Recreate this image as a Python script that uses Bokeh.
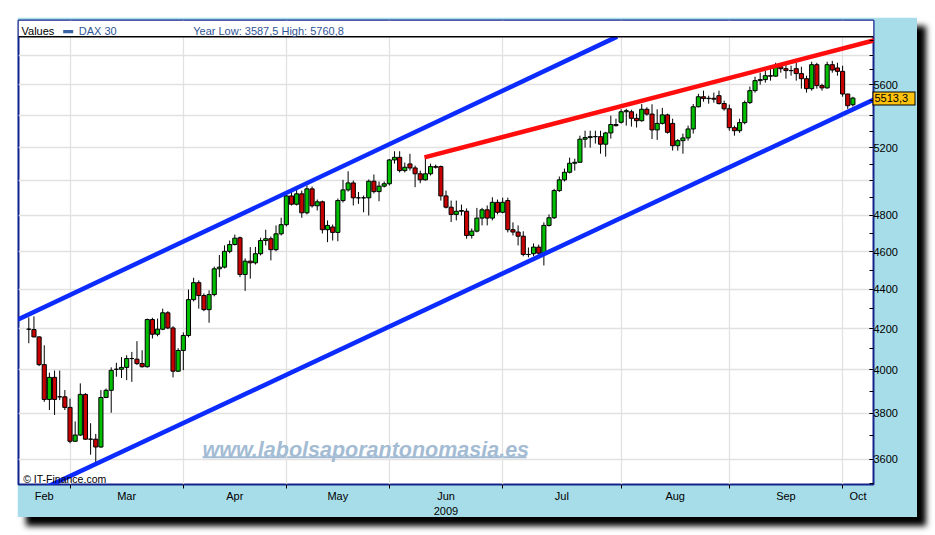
import math
from bokeh.plotting import figure
from bokeh.models import (Range1d, FixedTicker, NumeralTickFormatter, Label, Span,
                          BoxAnnotation, ColumnDataSource, LogAxis)
from bokeh.embed import file_html
from bokeh.resources import INLINE

# ---------------- data (DAX 30, daily, 18 Feb 2009 - 5 Oct 2009) ----------------
opens = [4197, 4195, 4159, 4025, 3863, 3965, 3875, 3875, 3827, 3677,
         3704, 3886, 3686, 3686, 3652, 3872, 3905, 4003, 4003, 4012,
         4054, 4051, 4030, 4015, 4245, 4172, 4197, 4279, 4203, 3994,
         4093, 4166, 4346, 4434, 4367, 4295, 4372, 4507, 4516, 4601,
         4638, 4675, 4477, 4548, 4539, 4588, 4660, 4670, 4610, 4697,
         4748, 4912, 4864, 4924, 4815, 4953, 4855, 4878, 4720, 4735,
         4705, 4885, 4947, 4988, 4901, 4901, 4901, 4998, 4937, 4969,
         4983, 5125, 5141, 5061, 5101, 5077, 5042, 5006, 5042, 5085,
         5085, 4912, 4847, 4806, 4824, 4824, 4688, 4712, 4785, 4832,
         4785, 4875, 4818, 4885, 4720, 4707, 4684, 4584, 4588, 4624,
         4591, 4744, 4787, 4943, 5006, 5051, 5105, 5111, 5252, 5262,
         5268, 5268, 5221, 5291, 5344, 5358, 5425, 5425, 5383, 5368,
         5441, 5410, 5310, 5351, 5405, 5351, 5212, 5243, 5260, 5316,
         5457, 5522, 5510, 5512, 5529, 5478, 5444, 5324, 5305, 5356,
         5484, 5562, 5628, 5635, 5661, 5658, 5721, 5708, 5695, 5708,
         5675, 5641, 5575, 5735, 5595, 5580, 5735, 5713, 5690, 5540,
         5470]
highs = [4256, 4261, 4162, 4118, 3987, 3997, 3997, 3906, 3867, 3764,
         3937, 3892, 3756, 3709, 3906, 3913, 4012, 4034, 4061, 4070,
         4086, 4138, 4094, 4250, 4254, 4250, 4300, 4287, 4212, 4104,
         4181, 4398, 4460, 4446, 4378, 4394, 4519, 4581, 4633, 4660,
         4693, 4682, 4563, 4624, 4625, 4675, 4720, 4682, 4744, 4787,
         4924, 4947, 4959, 4943, 4973, 4967, 4891, 4885, 4772, 4749,
         4897, 5006, 5057, 5002, 4935, 4914, 5008, 5038, 4996, 4996,
         5131, 5178, 5178, 5109, 5162, 5091, 5061, 5141, 5103, 5097,
         5091, 4943, 4885, 4885, 4862, 4840, 4727, 4843, 4843, 4857,
         4904, 4891, 4902, 4902, 4761, 4744, 4711, 4622, 4644, 4638,
         4761, 4806, 4953, 5026, 5073, 5139, 5133, 5274, 5305, 5305,
         5305, 5305, 5298, 5400, 5381, 5441, 5444, 5438, 5413, 5475,
         5454, 5473, 5441, 5450, 5413, 5381, 5253, 5287, 5337, 5475,
         5541, 5562, 5529, 5549, 5562, 5497, 5471, 5337, 5381, 5497,
         5589, 5654, 5681, 5695, 5708, 5748, 5741, 5735, 5728, 5748,
         5721, 5661, 5755, 5748, 5608, 5755, 5760.8, 5748, 5728, 5541,
         5522]
lows = [4128, 4157, 4018, 3852, 3815, 3793, 3860, 3815, 3668, 3674,
        3700, 3683, 3619, 3587.5, 3649, 3869, 3803, 3968, 3962, 3952,
        3944, 4023, 4011, 4011, 4151, 4162, 4192, 4197, 3965, 3990,
        3999, 4157, 4337, 4300, 4287, 4229, 4363, 4463, 4509, 4590,
        4633, 4463, 4391, 4455, 4530, 4579, 4633, 4552, 4601, 4688,
        4738, 4857, 4857, 4787, 4806, 4845, 4828, 4699, 4651, 4660,
        4656, 4874, 4937, 4857, 4866, 4818, 4800, 4926, 4881, 4961,
        4973, 5103, 5050, 5050, 5061, 4963, 4986, 5002, 5032, 5073,
        4885, 4840, 4763, 4772, 4800, 4670, 4671, 4705, 4744, 4744,
        4772, 4806, 4812, 4705, 4688, 4633, 4574, 4568, 4574, 4574,
        4525, 4738, 4780, 4935, 4996, 5044, 5061, 5109, 5200, 5200,
        5225, 5163, 5145, 5256, 5331, 5350, 5337, 5331, 5325, 5362,
        5400, 5253, 5248, 5344, 5287, 5182, 5182, 5163, 5243, 5287,
        5453, 5490, 5477, 5484, 5471, 5432, 5305, 5274, 5292, 5345,
        5475, 5549, 5601, 5615, 5628, 5654, 5681, 5641, 5661, 5628,
        5575, 5549, 5562, 5575, 5562, 5575, 5681, 5661, 5522, 5443,
        5458]
closes = [4197, 4159, 4025, 3863, 3965, 3863, 3875, 3827, 3677, 3704,
          3886, 3686, 3686, 3652, 3872, 3905, 3998, 4003, 4012, 4054,
          4054, 4030, 4015, 4245, 4172, 4197, 4279, 4203, 3994, 4093,
          4166, 4346, 4434, 4367, 4295, 4372, 4507, 4516, 4601, 4638,
          4673, 4477, 4548, 4539, 4588, 4660, 4670, 4610, 4697, 4748,
          4912, 4864, 4924, 4815, 4953, 4855, 4878, 4720, 4744, 4705,
          4885, 4947, 4988, 4901, 4901, 4901, 4998, 4937, 4969, 4983,
          5125, 5141, 5061, 5081, 5077, 5042, 5006, 5042, 5085, 5081,
          4912, 4847, 4806, 4824, 4828, 4688, 4712, 4785, 4832, 4785,
          4875, 4818, 4875, 4720, 4707, 4684, 4584, 4584, 4624, 4591,
          4744, 4787, 4943, 5006, 5051, 5105, 5111, 5252, 5262, 5268,
          5268, 5221, 5291, 5344, 5337, 5425, 5432, 5383, 5368, 5441,
          5410, 5310, 5351, 5405, 5295, 5212, 5243, 5260, 5316, 5457,
          5522, 5510, 5512, 5506, 5478, 5444, 5324, 5305, 5356, 5484,
          5562, 5628, 5635, 5661, 5658, 5721, 5708, 5695, 5695, 5675,
          5641, 5575, 5735, 5595, 5580, 5735, 5699, 5690, 5540, 5464,
          5513.3]

month_names = ["Feb", "Mar", "Apr", "May", "Jun", "Jul", "Aug", "Sep", "Oct"]
month_first_index = [-2, 8, 30, 50, 70, 92, 115, 136, 158]   # trading-day index of 1st session

y_label_ticks = [3600, 3800, 4000, 4200, 4400, 4600, 4800, 5200, 5600]
y_grid_ticks = [3600, 3800, 4000, 4200, 4400, 4600, 4800, 5000, 5200, 5400, 5600, 5800]
y_minor_ticks = list(range(3500, 6000, 100))

# analyst trend lines (day index, price)
upper_line_x = [-3.0, 114.23]
upper_line_y = [4234, 5928]
lower_line_x = [3.0, 166.0]
lower_line_y = [3479, 5534]
red_line_x = [76.82, 166.0]
red_line_y = [5141, 5920]

last_value = 5513.3
year_low, year_high = 3587.5, 5760.8

# ---------------- helpers for placing decorations ----------------
def px_to_d(px):
    return (px - 28.3) / 5.151

def py_to_v(py):
    return 5600 * math.exp((84.2 - py) / 847.6)

FONT = "Liberation Sans"

x_start, x_end = -2.0, 164.0
p = figure(width=900, height=500,
           x_range=Range1d(x_start, x_end), y_range=Range1d(3494, 6042),
           y_axis_type="log", y_axis_location="right",
           output_backend="svg", toolbar_location=None,
           min_border_left=1, min_border_right=44, min_border_top=3, min_border_bottom=33,
           background_fill_color="white", border_fill_color="#A7DDE9",
           outline_line_color="#14238C", outline_line_width=2,
           styles={"transform": "translate(17px, 17px)",
                   "box-shadow": "9px 9px 6px #000000"})

# grids
p.xgrid[0].ticker = FixedTicker(ticks=month_first_index[1:])
p.ygrid[0].ticker = FixedTicker(ticks=y_grid_ticks)
for g in (p.xgrid[0], p.ygrid[0]):
    g.grid_line_color = "#E1E1E1"
    g.grid_line_width = 1.3

# x axis: month labels centred in each month, ticks at month starts
bounds = [x_start] + month_first_index[1:] + [x_end]
label_pos = [(bounds[i] + bounds[i + 1]) / 2 for i in range(len(month_names))]
xa = p.xaxis[0]
xa.ticker = FixedTicker(ticks=label_pos, minor_ticks=month_first_index[1:])
xa.major_label_overrides = {pos: name for pos, name in zip(label_pos, month_names)}
xa.major_tick_line_color = None
xa.major_tick_in = 0
xa.major_tick_out = 0
xa.minor_tick_line_color = "black"
xa.minor_tick_in = 0
xa.minor_tick_out = 4
xa.axis_line_color = None
xa.major_label_standoff = 1
xa.major_label_text_font = FONT
xa.major_label_text_font_size = "11px"
xa.major_label_text_color = "black"
xa.axis_label = "2009"
xa.axis_label_standoff = 2
xa.axis_label_text_font = FONT
xa.axis_label_text_font_size = "11px"
xa.axis_label_text_font_style = "normal"
xa.axis_label_text_color = "black"

# y axis (log, right)
ya = p.yaxis[0]
ya.ticker = FixedTicker(ticks=y_label_ticks, minor_ticks=y_minor_ticks)
ya.formatter = NumeralTickFormatter(format="0")
ya.axis_line_color = None
ya.major_tick_in = 4
ya.major_tick_out = 0
ya.minor_tick_in = 4
ya.minor_tick_out = 0
ya.major_tick_line_color = "black"
ya.minor_tick_line_color = "black"
ya.major_label_standoff = 0
ya.major_label_text_font = FONT
ya.major_label_text_font_size = "11px"
ya.major_label_text_color = "black"

# last-value tag: second right axis with one tick; its tick lines form the
# framed yellow box and its label is pulled back next to the chart frame
W1 = 29  # width taken by the first right axis
tag_axis = LogAxis(ticker=FixedTicker(ticks=[last_value], minor_ticks=[last_value]),
                   major_label_overrides={last_value: str(last_value).replace(".", ",")},
                   formatter=NumeralTickFormatter(format="0.0"))
tag_axis.axis_line_color = None
tag_axis.major_tick_line_color = "black"
tag_axis.major_tick_line_width = 14
tag_axis.major_tick_line_cap = "butt"
tag_axis.major_tick_in = W1 - 1
tag_axis.major_tick_out = 44 - W1
tag_axis.minor_tick_line_color = "#FFC20E"
tag_axis.minor_tick_line_width = 12
tag_axis.minor_tick_line_cap = "butt"
tag_axis.minor_tick_in = W1 - 2
tag_axis.minor_tick_out = 43 - W1
tag_axis.major_label_standoff = 3 - (44 - W1) - W1
tag_axis.major_label_text_font = FONT
tag_axis.major_label_text_font_size = "11px"
tag_axis.major_label_text_color = "black"
p.add_layout(tag_axis, "right")

# watermark (behind candles)
wm = Label(x=px_to_d(202), y=py_to_v(450), text="www.labolsaporantonomasia.es",
           text_font=FONT, text_font_size="21.5px", text_font_style="bold italic",
           text_color="#A3BCD4", text_baseline="alphabetic", level="underlay")
p.add_layout(wm)
p.segment(x0=[px_to_d(202)], y0=[py_to_v(456.7)], x1=[px_to_d(526)], y1=[py_to_v(456.7)],
          line_color="#A3BCD4", line_width=2, level="underlay")

# candles
n = len(opens)
idx = list(range(n))
src = ColumnDataSource(dict(
    x=idx, h=highs, l=lows,
    top=[max(o, c) for o, c in zip(opens, closes)],
    bottom=[min(o, c) for o, c in zip(opens, closes)],
    color=["#00BE00" if c > o else "#C80000" for o, c in zip(opens, closes)],
))
p.segment(x0="x", y0="h", x1="x", y1="l", source=src, line_color="black", line_width=1)
p.vbar(x="x", width=0.8, top="top", bottom="bottom", fill_color="color",
       line_color="black", line_width=1, source=src)

# trend lines
p.line(upper_line_x, upper_line_y, line_color="#0B2BFF", line_width=4.5)
p.line(lower_line_x, lower_line_y, line_color="#0B2BFF", line_width=4.5)
p.line(red_line_x, red_line_y, line_color="#FF0C0C", line_width=4.5)

# header band inside the frame
hdr_bottom = py_to_v(36)
p.add_layout(BoxAnnotation(bottom=hdr_bottom, fill_color="white", fill_alpha=1.0,
                           line_color=None))
p.add_layout(Span(location=hdr_bottom, dimension="width", line_color="black", line_width=1.6))
p.add_layout(Label(x=px_to_d(21), y=py_to_v(30.7), text="Values", text_font=FONT,
                   text_font_size="11px", text_color="black", text_baseline="middle"))
p.add_layout(BoxAnnotation(left=px_to_d(62.7), right=px_to_d(72.7),
                           bottom=py_to_v(32.5), top=py_to_v(29.3),
                           fill_color="#3A63A6", fill_alpha=1.0, line_color=None))
p.add_layout(Label(x=px_to_d(78.3), y=py_to_v(30.7), text="DAX 30", text_font=FONT,
                   text_font_size="11px", text_color="#2F5597", text_baseline="middle"))
p.add_layout(Label(x=px_to_d(192.7), y=py_to_v(30.7),
                   text="Year Low: %s High: %s" % (str(year_low).replace(".", ","),
                                                     str(year_high).replace(".", ",")),
                   text_font=FONT, text_font_size="11px", text_color="#2F5597",
                   text_baseline="middle"))

# copyright
p.add_layout(Label(x=px_to_d(22.7), y=py_to_v(479), text="\u00a9 IT-Finance.com",
                   text_font=FONT, text_font_size="10.5px", text_color="black",
                   text_baseline="middle"))

open("out.html", "w").write(file_html(p, INLINE))
